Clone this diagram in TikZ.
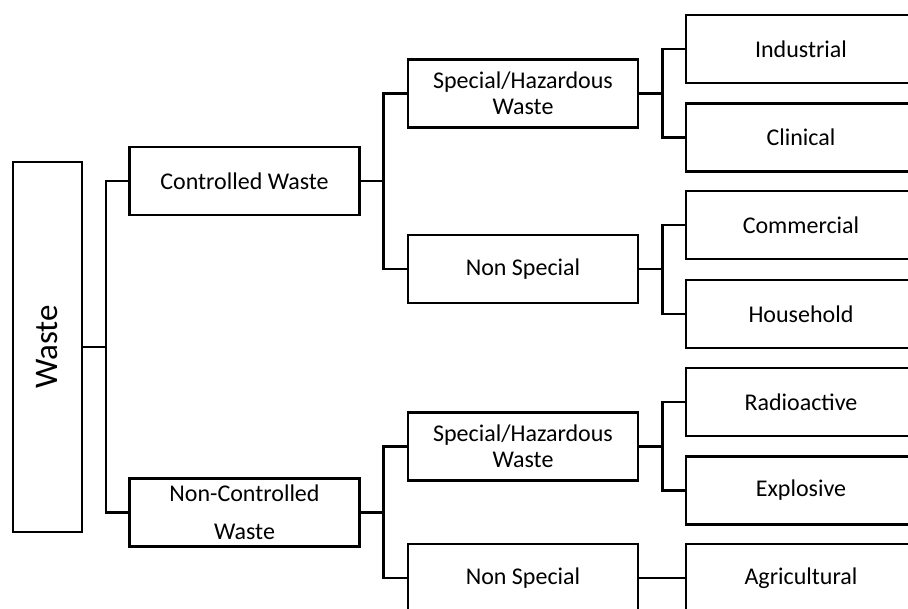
\documentclass[tikz,border=0pt]{standalone}
\usepackage{fontspec}
\setmainfont{Carlito}
\usepackage{tikz}

\begin{document}
\begin{tikzpicture}[x=1pt, y=-1pt, line width=2.6pt,
  caja/.style={draw, minimum width=230pt, minimum height=68pt, align=center,
    font=\fontsize{24}{26}\selectfont, inner sep=0pt},
  rama/.style={line join=miter}]
  \path[use as bounding box, clip] (0,0) rectangle (908,609);

  % Nodo raiz
  \node[draw, minimum width=69pt, minimum height=370pt, inner sep=0pt,
    font=\fontsize{33}{36}\selectfont] (waste) at (47.5,347) {\rotatebox{90}{Waste}};

  % Primer nivel
  \node[caja] (ctrl) at (244.5,181) {Controlled Waste};
  \node[caja] (nonctrl) at (244.5,512.5) {Non-Controlled\\[12pt]Waste};

  % Segundo nivel
  \node[caja] (haz1) at (523,93.5) {Special/Hazardous\\Waste};
  \node[caja] (nspec1) at (523,269) {Non Special};
  \node[caja] (haz2) at (523,446.5) {Special/Hazardous\\Waste};
  \node[caja] (nspec2) at (523,578) {Non Special};

  % Tercer nivel
  \node[caja] (industrial) at (801,49) {Industrial};
  \node[caja] (clinical) at (801,137.5) {Clinical};
  \node[caja] (commercial) at (801,225) {Commercial};
  \node[caja] (household) at (801,314) {Household};
  \node[caja] (radio) at (801,402) {Radioactive};
  \node[caja] (explosive) at (801,490.5) {Explosive};
  \node[caja] (agri) at (801,578) {Agricultural};

  % Conectores
  \draw[rama] (waste.east) -- +(22.5,0) |- (ctrl.west);
  \draw[rama] (waste.east) -- +(22.5,0) |- (nonctrl.west);
  \draw[rama] (ctrl.east) -- +(22.5,0) |- (haz1.west);
  \draw[rama] (ctrl.east) -- +(22.5,0) |- (nspec1.west);
  \draw[rama] (nonctrl.east) -- +(22.5,0) |- (haz2.west);
  \draw[rama] (nonctrl.east) -- +(22.5,0) |- (nspec2.west);
  \draw[rama] (haz1.east) -- +(23,0) |- (industrial.west);
  \draw[rama] (haz1.east) -- +(23,0) |- (clinical.west);
  \draw[rama] (nspec1.east) -- +(23,0) |- (commercial.west);
  \draw[rama] (nspec1.east) -- +(23,0) |- (household.west);
  \draw[rama] (haz2.east) -- +(23,0) |- (radio.west);
  \draw[rama] (haz2.east) -- +(23,0) |- (explosive.west);
  \draw[rama] (nspec2.east) -- +(23,0) |- (agri.west);
\end{tikzpicture}
\end{document}
